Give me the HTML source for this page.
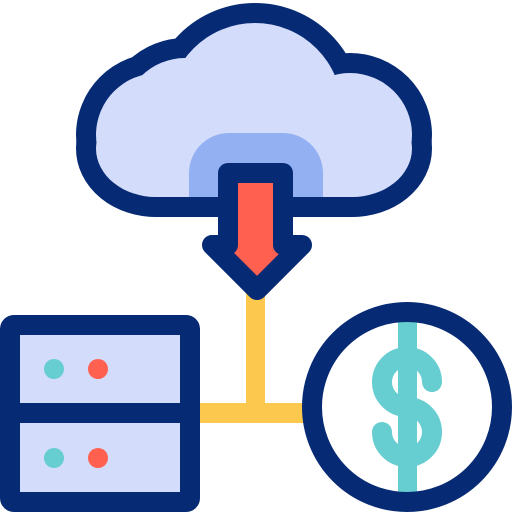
<!DOCTYPE html>
<html><head><style>html,body{margin:0;padding:0;background:#fff}svg{display:block}</style></head>
<body>
<svg width="512" height="512" viewBox="0 0 512 512" xmlns="http://www.w3.org/2000/svg">
<defs>
<clipPath id="co"><rect x="0" y="0" width="512" height="217"/></clipPath>
<clipPath id="ci"><rect x="0" y="0" width="512" height="197"/></clipPath>
</defs>
<rect x="246" y="290" width="19" height="130" fill="#fcc94e"/>
<rect x="195" y="403" width="115" height="20" fill="#fcc94e"/>
<g fill="#062a74" stroke="#062a74" stroke-width="40" stroke-linejoin="round" clip-path="url(#co)">
<circle cx="255" cy="110" r="87"/>
<circle cx="350" cy="135" r="62"/>
<circle cx="158" cy="135" r="62"/>
<circle cx="185" cy="120" r="62"/>
<rect x="96" y="100" width="316" height="97" rx="60"/>
</g>
<g fill="#d3ddfb" clip-path="url(#ci)">
<circle cx="255" cy="110" r="87"/>
<circle cx="350" cy="135" r="62"/>
<circle cx="158" cy="135" r="62"/>
<circle cx="185" cy="120" r="62"/>
<rect x="96" y="100" width="316" height="97" rx="60"/>
</g>
<path d="M189,197 V173 A40,40 0 0 1 229,133 H283 A40,40 0 0 1 323,173 V197 Z" fill="#93b1f2"/>
<path d="M228,173 H283 V245 H302 L257,290 L212,245 H228 Z" fill="#ff6050" stroke="#062a74" stroke-width="20" stroke-linejoin="round"/>
<rect x="10" y="325" width="180" height="177" rx="4" fill="#d3ddfb" stroke="#062a74" stroke-width="20"/>
<rect x="10" y="403" width="180" height="20" fill="#062a74"/>
<circle cx="54" cy="369" r="10" fill="#66cdd0"/>
<circle cx="98" cy="369" r="10" fill="#ff6050"/>
<circle cx="54" cy="458" r="10" fill="#66cdd0"/>
<circle cx="98" cy="458" r="10" fill="#ff6050"/>
<circle cx="407" cy="407" r="95" fill="#fff"/>
<rect x="398" y="322" width="19" height="170" fill="#66cdd0"/>
<path d="M432,382 A25,25 0 1 0 407,407 A25,25 0 1 1 382,432" fill="none" stroke="#66cdd0" stroke-width="20" stroke-linecap="round"/>
<circle cx="407" cy="407" r="95" fill="none" stroke="#062a74" stroke-width="20"/>
</svg>
</body></html>
